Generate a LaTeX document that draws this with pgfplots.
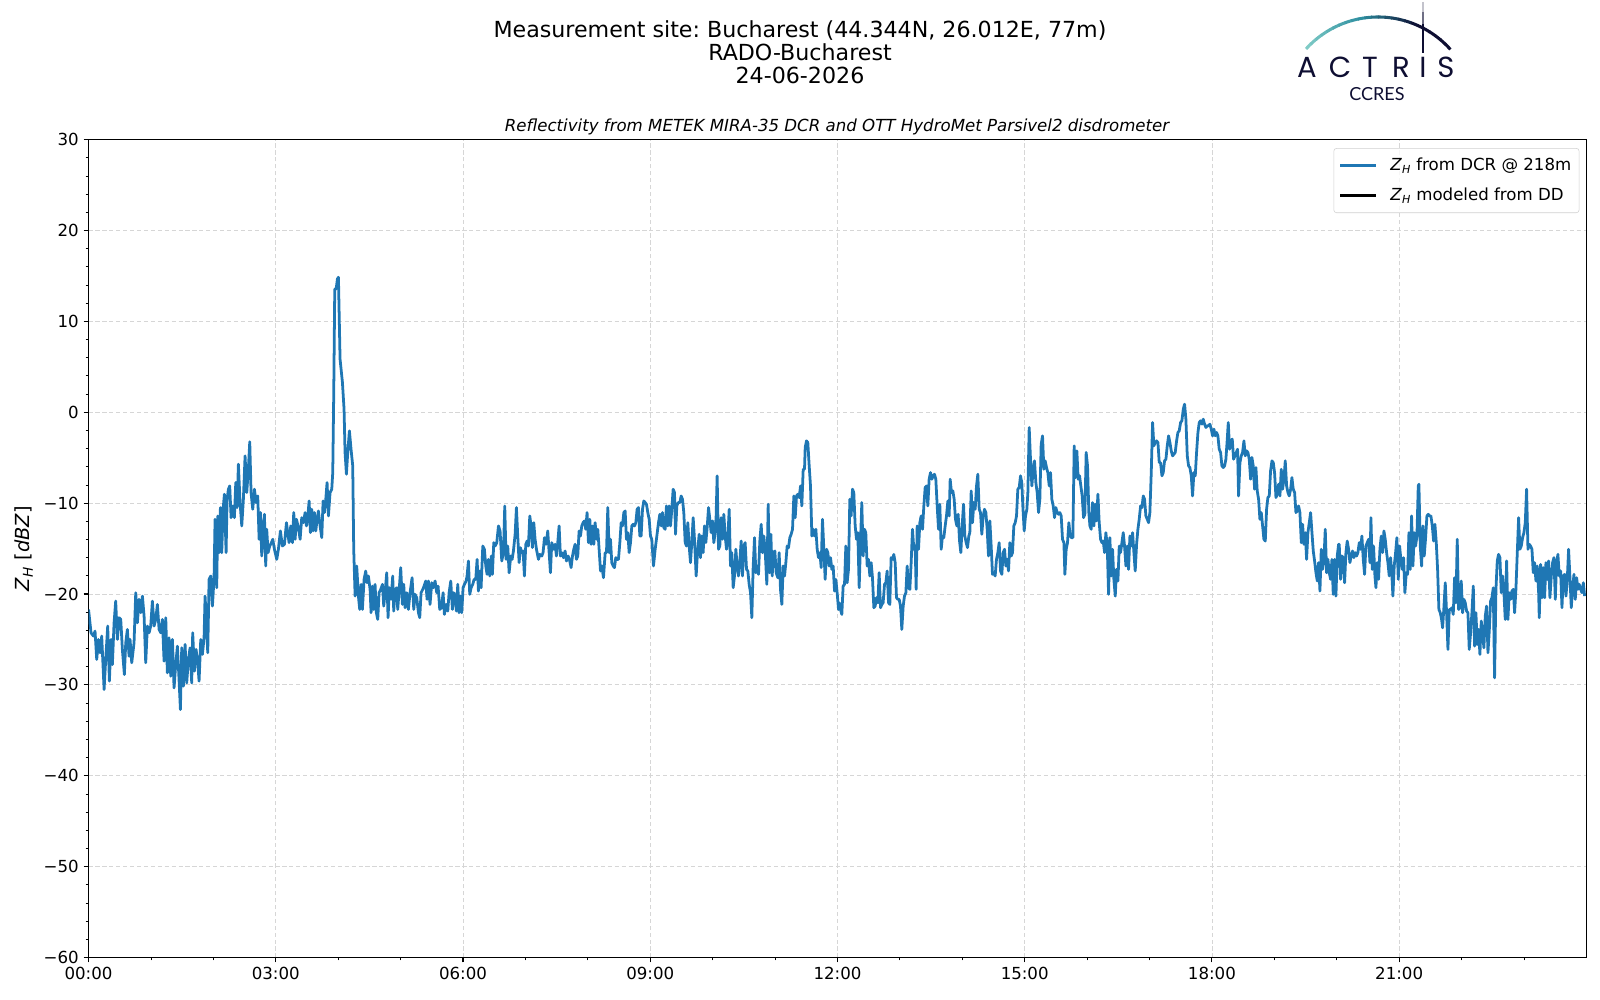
\documentclass[border=0pt]{standalone}
\usepackage{fontspec}
\setmainfont{DejaVu Sans}
\newfontfamily\logofont{Poppins}
\newfontfamily\ccresfont{Lato}
\usepackage{pgfplots}
\pgfplotsset{compat=1.18}
\usepackage{pgfplotstable}
\definecolor{czero}{HTML}{1F77B4}
\definecolor{logonavy}{RGB}{14,14,50}
\definecolor{logoteal}{HTML}{7FCBC6}
\definecolor{logomid}{HTML}{2E8FA0}
\definecolor{gridgray}{HTML}{D6D6D6}
\definecolor{legedge}{HTML}{D0D0D0}

\pgfplotstableread{
h z
0.000 -21.70
0.040 -24.27
0.078 -24.63
0.104 -24.08
0.131 -27.21
0.158 -25.00
0.184 -26.47
0.211 -24.63
0.249 -30.51
0.275 -27.21
0.307 -23.53
0.334 -29.59
0.361 -25.00
0.382 -27.76
0.409 -23.17
0.435 -20.78
0.462 -25.00
0.489 -22.61
0.516 -22.80
0.542 -26.10
0.574 -28.86
0.596 -25.37
0.622 -23.90
0.649 -26.84
0.665 -25.00
0.692 -27.57
0.729 -25.37
0.756 -19.86
0.783 -23.17
0.809 -20.59
0.836 -22.06
0.863 -20.23
0.890 -22.43
0.916 -27.57
0.943 -23.53
0.970 -24.27
0.996 -23.53
1.023 -20.78
1.050 -23.53
1.077 -22.80
1.103 -21.15
1.130 -23.90
1.157 -24.27
1.183 -22.80
1.210 -27.39
1.237 -22.61
1.263 -28.68
1.290 -24.82
1.317 -29.04
1.344 -25.00
1.370 -30.33
1.397 -27.76
1.424 -25.74
1.450 -29.41
1.472 -32.72
1.493 -25.92
1.520 -30.14
1.547 -25.55
1.573 -29.78
1.600 -27.21
1.627 -25.92
1.653 -29.78
1.669 -24.27
1.696 -28.49
1.723 -26.10
1.750 -27.57
1.771 -29.59
1.798 -25.00
1.824 -26.65
1.851 -24.82
1.867 -20.23
1.888 -22.98
1.910 -26.47
1.931 -18.39
1.958 -18.02
1.985 -21.33
2.011 -18.21
2.027 -11.78
2.054 -19.31
2.070 -11.41
2.092 -15.45
2.113 -10.49
2.134 -15.45
2.156 -10.68
2.177 -9.02
2.204 -15.45
2.220 -9.58
2.241 -8.47
2.262 -8.11
2.284 -11.60
2.311 -10.31
2.337 -11.60
2.359 -7.74
2.380 -10.49
2.401 -5.72
2.428 -9.94
2.455 -12.51
2.481 -9.58
2.508 -4.80
2.535 -8.84
2.562 -6.09
2.583 -3.26
2.604 -8.84
2.631 -10.68
2.658 -8.47
2.684 -9.94
2.711 -9.21
2.733 -13.98
2.754 -11.04
2.775 -15.82
2.802 -12.51
2.818 -11.23
2.839 -16.92
2.855 -12.88
2.877 -15.45
2.903 -14.72
2.930 -14.35
2.952 -13.98
2.978 -15.08
3.016 -16.19
3.042 -15.08
3.074 -13.06
3.106 -14.72
3.139 -14.53
3.171 -12.15
3.192 -13.25
3.213 -14.35
3.240 -12.51
3.267 -14.35
3.288 -11.04
3.310 -13.98
3.331 -11.78
3.363 -12.70
3.390 -13.98
3.416 -11.60
3.443 -12.15
3.470 -11.04
3.491 -12.51
3.512 -11.60
3.534 -9.76
3.555 -13.25
3.577 -10.68
3.598 -13.06
3.619 -11.04
3.641 -13.06
3.662 -11.78
3.683 -10.86
3.710 -12.51
3.737 -13.80
3.758 -9.76
3.780 -11.04
3.801 -9.58
3.822 -7.74
3.844 -11.41
3.870 -8.84
3.897 -8.47
3.913 -6.64
3.929 2.18
3.945 13.56
3.967 13.56
3.988 14.67
4.004 14.85
4.030 5.85
4.068 3.28
4.094 0.34
4.110 -4.43
4.132 -6.82
4.153 -4.43
4.180 -2.05
4.206 -4.07
4.233 -5.90
4.249 -15.08
4.271 -20.23
4.297 -16.92
4.324 -20.23
4.345 -21.70
4.367 -18.94
4.388 -21.70
4.415 -18.39
4.441 -17.47
4.463 -18.76
4.484 -18.02
4.511 -19.49
4.527 -22.06
4.548 -19.13
4.570 -21.70
4.591 -18.94
4.612 -22.06
4.634 -22.80
4.655 -19.86
4.682 -19.49
4.709 -18.94
4.730 -21.33
4.751 -19.86
4.778 -17.66
4.799 -22.61
4.821 -19.31
4.847 -20.59
4.874 -18.02
4.890 -21.88
4.912 -19.49
4.938 -19.31
4.954 -21.70
4.976 -19.68
5.002 -17.10
5.029 -21.15
5.050 -18.94
5.072 -21.51
5.099 -19.86
5.125 -21.70
5.152 -19.86
5.184 -18.21
5.211 -21.70
5.232 -20.04
5.259 -20.41
5.286 -22.06
5.307 -22.61
5.328 -19.86
5.355 -19.49
5.376 -19.13
5.403 -18.57
5.424 -20.59
5.446 -18.57
5.472 -21.15
5.499 -18.76
5.526 -19.31
5.553 -18.57
5.579 -19.86
5.601 -19.13
5.627 -21.70
5.654 -21.51
5.681 -19.86
5.702 -22.25
5.729 -21.15
5.756 -21.88
5.777 -19.86
5.804 -18.57
5.830 -21.70
5.852 -19.86
5.873 -20.23
5.894 -21.88
5.916 -18.94
5.937 -22.06
5.959 -20.23
5.980 -22.06
6.001 -19.31
6.023 -18.94
6.049 -18.57
6.065 -18.02
6.087 -16.37
6.108 -20.04
6.130 -19.31
6.156 -18.94
6.178 -18.39
6.204 -18.39
6.226 -16.19
6.247 -19.68
6.268 -17.47
6.290 -19.31
6.317 -14.72
6.343 -15.08
6.365 -16.92
6.386 -17.84
6.407 -16.19
6.429 -18.02
6.455 -15.82
6.471 -17.84
6.493 -14.35
6.514 -14.72
6.541 -14.35
6.568 -12.51
6.594 -13.06
6.621 -16.37
6.648 -15.45
6.669 -10.31
6.690 -16.19
6.717 -14.72
6.739 -17.66
6.765 -15.82
6.787 -16.19
6.808 -15.27
6.835 -13.43
6.856 -10.49
6.877 -13.62
6.899 -16.55
6.920 -14.90
6.942 -15.45
6.963 -15.27
6.984 -18.02
7.006 -14.53
7.027 -14.17
7.048 -14.72
7.070 -11.41
7.091 -12.51
7.112 -14.90
7.134 -12.15
7.155 -13.98
7.177 -15.08
7.209 -16.19
7.230 -15.64
7.262 -15.82
7.283 -15.45
7.305 -13.80
7.331 -14.53
7.358 -13.06
7.380 -15.45
7.401 -17.66
7.422 -14.35
7.454 -15.08
7.476 -14.53
7.497 -15.82
7.518 -14.35
7.540 -12.51
7.561 -15.82
7.583 -15.45
7.609 -16.00
7.636 -15.27
7.657 -16.37
7.684 -15.82
7.705 -16.19
7.732 -17.10
7.754 -15.82
7.775 -15.08
7.796 -14.53
7.818 -16.19
7.839 -15.82
7.860 -13.06
7.882 -13.62
7.903 -12.51
7.924 -12.15
7.946 -11.96
7.967 -12.88
7.988 -11.04
8.010 -14.35
8.032 -11.78
8.053 -14.53
8.075 -12.51
8.096 -14.53
8.117 -12.15
8.139 -13.98
8.160 -12.88
8.181 -15.08
8.203 -17.47
8.224 -16.92
8.251 -18.21
8.278 -15.45
8.299 -15.45
8.320 -10.49
8.342 -15.45
8.363 -13.98
8.384 -16.55
8.406 -16.92
8.427 -17.10
8.448 -16.00
8.470 -16.19
8.491 -16.19
8.513 -14.35
8.534 -12.15
8.555 -12.51
8.577 -11.04
8.598 -10.86
8.619 -13.98
8.641 -13.25
8.662 -15.45
8.684 -14.35
8.705 -12.51
8.726 -12.33
8.748 -12.51
8.769 -12.15
8.790 -10.68
8.812 -10.49
8.833 -13.62
8.854 -13.62
8.876 -10.68
8.897 -9.76
8.919 -9.94
8.940 -10.13
8.961 -11.04
8.983 -11.78
9.004 -13.62
9.025 -13.98
9.052 -16.92
9.079 -15.08
9.106 -13.62
9.132 -12.15
9.154 -11.23
9.175 -12.51
9.196 -11.04
9.218 -12.70
9.239 -12.88
9.260 -10.31
9.282 -12.51
9.303 -10.31
9.325 -12.51
9.346 -10.68
9.367 -8.47
9.389 -8.84
9.405 -13.43
9.426 -10.31
9.447 -9.94
9.474 -9.94
9.495 -9.21
9.517 -9.58
9.538 -11.04
9.560 -14.35
9.581 -14.72
9.602 -12.15
9.624 -14.72
9.645 -16.55
9.666 -14.35
9.688 -11.60
9.709 -13.98
9.736 -18.02
9.757 -15.45
9.784 -13.43
9.805 -16.00
9.827 -13.62
9.848 -15.45
9.869 -12.51
9.891 -14.35
9.912 -12.70
9.934 -10.49
9.955 -11.78
9.976 -13.25
9.998 -11.96
10.019 -14.35
10.040 -13.25
10.056 -11.41
10.072 -7.00
10.094 -15.08
10.115 -14.72
10.137 -11.60
10.158 -13.98
10.179 -11.23
10.201 -13.62
10.222 -15.08
10.243 -13.98
10.265 -10.68
10.286 -16.92
10.307 -15.45
10.329 -19.31
10.350 -18.02
10.372 -15.08
10.393 -16.92
10.414 -18.02
10.436 -16.37
10.457 -14.17
10.478 -18.02
10.500 -14.72
10.521 -14.35
10.543 -17.29
10.564 -17.47
10.585 -18.94
10.607 -19.86
10.628 -22.61
10.649 -17.10
10.671 -13.80
10.692 -17.66
10.713 -16.92
10.735 -17.84
10.756 -14.17
10.778 -12.33
10.799 -15.45
10.820 -13.62
10.842 -15.27
10.868 -18.94
10.890 -10.13
10.911 -17.66
10.933 -13.43
10.954 -18.02
10.975 -15.45
10.997 -15.27
11.018 -17.66
11.045 -18.21
11.066 -15.45
11.087 -19.49
11.109 -21.15
11.130 -16.92
11.152 -18.02
11.173 -16.55
11.194 -14.72
11.216 -14.90
11.237 -13.80
11.258 -13.43
11.280 -12.88
11.301 -9.21
11.323 -11.60
11.344 -9.21
11.365 -9.02
11.387 -9.39
11.408 -8.11
11.429 -10.31
11.451 -6.27
11.472 -6.27
11.483 -3.88
11.504 -3.15
11.525 -3.33
11.547 -5.90
11.568 -8.11
11.590 -13.62
11.611 -12.88
11.632 -13.62
11.654 -12.88
11.675 -15.08
11.696 -16.00
11.718 -15.45
11.739 -17.10
11.760 -11.78
11.782 -15.08
11.803 -18.39
11.825 -15.08
11.846 -15.45
11.867 -16.92
11.889 -16.00
11.910 -17.29
11.931 -16.92
11.953 -19.68
11.974 -18.39
11.995 -19.86
12.017 -21.70
12.027 -20.96
12.048 -21.70
12.070 -22.25
12.091 -19.13
12.113 -18.94
12.134 -14.72
12.155 -18.76
12.177 -17.29
12.198 -9.58
12.219 -11.41
12.241 -8.47
12.262 -8.84
12.284 -12.51
12.305 -13.98
12.326 -13.25
12.348 -19.31
12.369 -14.35
12.390 -9.94
12.412 -15.82
12.433 -12.88
12.454 -13.25
12.476 -16.92
12.497 -16.19
12.519 -18.02
12.540 -16.55
12.561 -18.21
12.583 -21.51
12.604 -21.33
12.625 -20.41
12.647 -20.96
12.668 -17.66
12.690 -21.51
12.711 -21.15
12.732 -20.96
12.754 -18.94
12.775 -18.76
12.796 -17.47
12.818 -20.96
12.839 -21.15
12.860 -16.00
12.882 -16.19
12.903 -15.64
12.925 -16.55
12.946 -20.41
12.967 -20.59
12.989 -20.59
13.010 -21.33
13.031 -23.90
13.053 -21.33
13.074 -20.23
13.096 -19.86
13.117 -16.92
13.138 -19.31
13.160 -19.49
13.181 -16.55
13.202 -12.88
13.224 -15.08
13.245 -14.72
13.261 -19.49
13.277 -12.51
13.299 -15.08
13.320 -12.15
13.341 -11.41
13.363 -12.88
13.384 -10.31
13.405 -8.29
13.427 -8.11
13.448 -10.31
13.469 -7.37
13.491 -6.64
13.512 -7.37
13.534 -7.00
13.555 -6.82
13.576 -7.37
13.598 -10.31
13.619 -12.88
13.640 -10.13
13.662 -15.08
13.683 -13.62
13.704 -13.80
13.726 -12.51
13.747 -11.41
13.769 -9.76
13.790 -11.41
13.806 -7.37
13.827 -8.84
13.849 -8.66
13.870 -9.58
13.891 -11.78
13.913 -12.51
13.934 -11.23
13.956 -14.17
13.977 -15.45
13.998 -12.51
14.020 -10.13
14.041 -13.62
14.062 -14.35
14.084 -14.90
14.105 -13.62
14.121 -13.25
14.143 -8.66
14.164 -12.15
14.185 -9.94
14.207 -10.68
14.228 -8.11
14.249 -6.82
14.271 -10.68
14.292 -11.04
14.313 -13.43
14.335 -11.41
14.356 -10.68
14.378 -11.04
14.399 -12.88
14.420 -15.82
14.442 -11.96
14.463 -14.72
14.484 -17.84
14.506 -17.66
14.527 -18.02
14.548 -16.19
14.570 -15.45
14.591 -14.35
14.613 -17.47
14.634 -17.84
14.655 -15.45
14.677 -15.08
14.698 -16.92
14.719 -16.19
14.741 -17.47
14.762 -14.35
14.784 -15.82
14.805 -15.45
14.826 -12.51
14.848 -12.15
14.869 -11.41
14.890 -8.47
14.912 -8.29
14.933 -7.00
14.954 -7.74
14.970 -10.31
14.992 -13.06
15.013 -11.41
15.035 -10.68
15.051 -8.84
15.072 -1.68
15.093 -5.17
15.115 -8.11
15.136 -6.27
15.157 -5.35
15.179 -7.74
15.200 -8.84
15.222 -11.04
15.243 -9.58
15.264 -3.52
15.286 -2.60
15.307 -6.27
15.328 -5.35
15.350 -6.09
15.371 -6.64
15.393 -8.11
15.414 -6.64
15.435 -9.58
15.457 -10.31
15.478 -11.60
15.499 -10.49
15.521 -11.04
15.542 -11.23
15.563 -11.04
15.585 -11.41
15.606 -13.98
15.628 -14.35
15.644 -17.84
15.665 -15.08
15.686 -14.35
15.708 -12.15
15.729 -13.62
15.750 -13.80
15.772 -13.80
15.793 -3.70
15.815 -7.19
15.836 -4.25
15.857 -7.37
15.879 -7.00
15.900 -8.11
15.921 -9.21
15.943 -11.60
15.964 -11.23
15.985 -4.43
16.007 -5.90
16.028 -11.04
16.045 -12.51
16.066 -12.88
16.088 -9.94
16.109 -12.51
16.130 -10.13
16.152 -11.96
16.173 -9.02
16.194 -12.15
16.216 -13.98
16.237 -14.35
16.258 -14.17
16.280 -15.45
16.301 -13.25
16.323 -14.72
16.344 -20.04
16.365 -13.80
16.387 -18.02
16.408 -15.08
16.429 -18.39
16.451 -20.23
16.472 -17.29
16.494 -18.57
16.515 -14.72
16.536 -15.45
16.558 -14.35
16.579 -13.25
16.600 -14.72
16.622 -16.92
16.643 -14.72
16.664 -17.29
16.686 -13.62
16.707 -14.72
16.729 -13.25
16.750 -15.45
16.771 -17.47
16.793 -14.53
16.814 -12.88
16.835 -11.78
16.857 -10.31
16.878 -10.49
16.900 -9.21
16.921 -9.58
16.942 -11.41
16.964 -11.78
16.985 -12.15
17.006 -11.04
17.028 -6.64
17.049 -1.13
17.070 -3.70
17.092 -3.33
17.113 -3.15
17.135 -3.33
17.156 -5.54
17.177 -5.54
17.199 -7.00
17.220 -6.64
17.241 -5.35
17.263 -5.17
17.284 -3.70
17.306 -2.60
17.327 -3.33
17.348 -4.25
17.370 -4.80
17.391 -4.62
17.412 -4.43
17.434 -3.15
17.455 -2.23
17.476 -2.05
17.498 -1.13
17.519 -0.94
17.541 0.34
17.562 0.89
17.583 -0.76
17.605 -4.80
17.626 -5.90
17.647 -6.09
17.669 -7.00
17.690 -9.21
17.711 -6.64
17.733 -7.00
17.754 -4.43
17.776 -2.23
17.797 -1.13
17.818 -0.94
17.840 -1.31
17.861 -0.76
17.882 -1.31
17.904 -1.68
17.925 -1.50
17.947 -1.50
17.968 -1.31
17.989 -1.86
18.011 -2.60
18.032 -1.86
18.053 -2.60
18.075 -2.23
18.096 -2.60
18.117 -4.07
18.139 -4.43
18.160 -5.90
18.182 -6.09
18.203 -5.90
18.224 -5.17
18.246 -2.96
18.262 -1.13
18.283 -4.07
18.304 -3.15
18.326 -2.96
18.347 -5.17
18.369 -4.80
18.390 -4.43
18.411 -4.07
18.427 -9.21
18.449 -5.54
18.470 -4.80
18.491 -4.43
18.513 -3.15
18.534 -4.80
18.556 -4.25
18.577 -4.43
18.598 -5.17
18.620 -7.37
18.641 -4.98
18.662 -5.90
18.684 -8.47
18.705 -6.09
18.726 -8.66
18.748 -9.58
18.769 -11.78
18.791 -11.04
18.812 -12.51
18.833 -13.98
18.855 -14.17
18.876 -10.68
18.897 -9.39
18.919 -9.21
18.940 -6.45
18.962 -5.35
18.983 -5.54
19.004 -6.64
19.026 -9.39
19.047 -9.02
19.068 -7.92
19.090 -9.21
19.111 -6.27
19.132 -8.47
19.154 -7.37
19.175 -5.35
19.197 -8.11
19.218 -8.84
19.239 -9.21
19.261 -8.47
19.282 -7.19
19.303 -8.47
19.325 -8.84
19.346 -11.04
19.368 -10.86
19.389 -10.31
19.410 -11.04
19.432 -14.35
19.453 -12.33
19.474 -14.53
19.496 -13.25
19.517 -16.19
19.538 -13.25
19.560 -12.15
19.581 -11.04
19.603 -13.25
19.624 -15.27
19.645 -16.37
19.667 -17.66
19.688 -18.57
19.709 -16.55
19.731 -19.68
19.752 -15.08
19.773 -17.29
19.795 -16.19
19.816 -12.88
19.838 -17.66
19.859 -16.19
19.880 -17.66
19.902 -18.39
19.923 -16.19
19.944 -20.04
19.966 -16.19
19.987 -20.23
20.008 -15.82
20.030 -14.53
20.040 -14.53
20.061 -18.39
20.083 -15.82
20.104 -16.00
20.126 -18.76
20.147 -15.45
20.168 -14.17
20.190 -15.08
20.211 -16.55
20.232 -15.82
20.254 -15.27
20.275 -16.00
20.297 -15.45
20.318 -15.82
20.339 -15.45
20.361 -14.35
20.382 -15.08
20.403 -13.62
20.425 -16.19
20.446 -17.84
20.467 -14.72
20.489 -14.35
20.510 -13.98
20.532 -16.55
20.548 -11.60
20.569 -17.29
20.590 -14.72
20.612 -18.02
20.628 -19.31
20.649 -16.55
20.670 -18.39
20.692 -15.08
20.713 -13.62
20.735 -15.45
20.756 -13.06
20.777 -13.98
20.799 -15.45
20.820 -16.55
20.841 -18.02
20.863 -16.00
20.884 -18.02
20.900 -20.23
20.921 -16.92
20.943 -15.45
20.964 -13.80
20.986 -18.39
21.007 -14.72
21.028 -16.19
21.050 -17.29
21.071 -16.00
21.092 -19.86
21.114 -17.66
21.135 -17.84
21.157 -13.25
21.178 -17.29
21.199 -11.41
21.221 -16.92
21.242 -13.25
21.263 -14.72
21.285 -13.62
21.306 -8.11
21.317 -7.92
21.338 -14.72
21.360 -16.92
21.381 -12.51
21.402 -15.82
21.424 -13.80
21.445 -11.41
21.466 -11.23
21.488 -11.41
21.509 -11.41
21.531 -12.51
21.552 -14.17
21.573 -12.33
21.595 -14.35
21.616 -17.29
21.637 -21.70
21.659 -22.06
21.680 -22.80
21.696 -23.72
21.717 -21.51
21.739 -18.76
21.760 -22.06
21.782 -26.10
21.803 -21.70
21.824 -21.70
21.846 -21.51
21.867 -22.25
21.888 -18.21
21.910 -20.96
21.931 -13.98
21.953 -21.70
21.974 -21.51
21.995 -18.57
22.017 -22.06
22.038 -20.59
22.059 -20.96
22.081 -21.88
22.102 -22.06
22.123 -26.10
22.145 -24.27
22.166 -22.06
22.188 -19.13
22.209 -25.74
22.230 -22.06
22.252 -25.55
22.273 -23.90
22.294 -26.65
22.316 -22.98
22.337 -24.27
22.358 -25.92
22.380 -22.43
22.401 -21.33
22.423 -26.47
22.444 -24.08
22.465 -20.78
22.487 -20.41
22.508 -19.31
22.529 -29.23
22.551 -19.49
22.572 -16.37
22.593 -15.64
22.615 -16.00
22.636 -19.86
22.658 -18.02
22.679 -19.86
22.700 -22.80
22.722 -16.37
22.743 -22.80
22.764 -19.86
22.786 -20.59
22.807 -19.68
22.829 -19.49
22.850 -22.06
22.871 -19.49
22.893 -15.45
22.914 -11.60
22.935 -15.08
22.957 -14.72
22.978 -13.80
22.999 -13.25
23.021 -12.15
23.042 -8.47
23.064 -15.08
23.085 -14.53
23.106 -14.72
23.128 -15.08
23.149 -17.66
23.170 -16.55
23.192 -18.57
23.213 -16.92
23.235 -19.86
23.245 -22.61
23.267 -16.74
23.288 -20.41
23.309 -17.10
23.331 -20.41
23.352 -16.55
23.373 -18.39
23.395 -16.37
23.416 -20.41
23.438 -18.02
23.459 -16.55
23.480 -16.00
23.502 -20.59
23.523 -16.55
23.544 -15.64
23.566 -18.02
23.587 -17.47
23.609 -21.51
23.630 -18.02
23.651 -17.84
23.673 -20.23
23.694 -18.39
23.715 -15.08
23.737 -18.21
23.758 -21.51
23.780 -19.31
23.801 -17.84
23.822 -20.59
23.844 -18.21
23.865 -19.49
23.886 -18.94
23.908 -19.49
23.929 -19.86
23.951 -18.76
23.972 -20.23
}\dcrdata

\begin{document}
\frenchspacing
\begin{tikzpicture}
\begin{scope}[shift={(-0.885in,9.57in)},x=0.01in,y=-0.01in]
\path[use as bounding box] (0,0) rectangle (1600,1000);
\end{scope}
\begin{axis}[
  scale only axis,
  width=14.97in, height=8.175in,
  xmin=0, xmax=24, ymin=-60, ymax=30,
  xtick={0,3,...,21},
  xticklabels={00:00,03:00,06:00,09:00,12:00,15:00,18:00,21:00},
  minor xtick={1,2,4,5,7,8,10,11,13,14,16,17,19,20,22,23},
  ytick={-60,-50,...,30},
  yticklabels={−60,−50,−40,−30,−20,−10,0,10,20,30},
  minor y tick num=4,
  tick align=outside, tick pos=left,
  major tick length=0.049in, minor tick length=0.028in,
  every tick/.style={black, line width=0.8pt},
  every minor tick/.style={black, line width=0.6pt},
  axis line style={line width=0.8pt},
  grid=major,
  major grid style={gridgray, dash pattern=on 3pt off 2pt, line width=0.6pt},
  tick label style={font=\fontsize{12}{14}\selectfont},
  /pgf/number format/assume math mode=true,
  ylabel={\textit{Z}\textsubscript{\textit{H}} [\textit{dBZ}]},
  every axis y label/.style={at={(axis description cs:-0.0431,0.5)}, rotate=90, anchor=center, font=\fontsize{14}{16}\selectfont},
  title={\textit{Reflectivity from METEK MIRA-35 DCR and OTT HydroMet Parsivel2 disdrometer}},
  every axis title/.style={at={(axis description cs:0.5,1)}, anchor=base, yshift=0.08in, font=\fontsize{12}{14}\selectfont},
  legend cell align=left,
  legend image code/.code={\draw[#1] (0in,0in) -- (0.36in,0in);},
  legend style={at={(1,1)}, anchor=north east, xshift=-0.07in, yshift=-0.085in,
    draw=legedge, rounded corners=2pt, fill=white, fill opacity=0.8, text opacity=1,
    font=\fontsize{12}{14}\selectfont, inner xsep=0.05in, inner ysep=0.072in,
    column sep=0.1in, row sep=0.095in},
]
\addplot[czero, line width=2pt, line join=round] table[x=h, y=z]{\dcrdata};
\addlegendentry{\textit{Z}\textsubscript{\textit{H}} from DCR @ 218m}
\addlegendimage{black, line width=2pt}
\addlegendentry{\textit{Z}\textsubscript{\textit{H}} modeled from DD}
\end{axis}
\begin{scope}[shift={(-0.885in,9.57in)},x=0.01in,y=-0.01in]
\node[anchor=base, font=\fontsize{16}{19}\selectfont] at (800,37.5) {Measurement site: Bucharest (44.344N, 26.012E, 77m)};
\node[anchor=base, font=\fontsize{16}{19}\selectfont] at (800,60.8) {RADO-Bucharest};
\node[anchor=base, font=\fontsize{16}{19}\selectfont] at (800,83.3) {24-06-2026};
% logo
\foreach \k in {0,...,23}{
  \pgfmathsetmacro{\aa}{137.9-\k*3.99}
  \pgfmathsetmacro{\bb}{\aa-4.4}
  \ifnum\k<9
    \pgfmathtruncatemacro{\pp}{100-\k*11}
    \def\cc{logoteal!\pp!logomid}
  \else
    \pgfmathtruncatemacro{\pp}{max(0,100-(\k-9)*12)}
    \def\cc{logomid!\pp!logonavy}
  \fi
  \draw[line width=2.2pt, color=\cc] plot[domain=\aa:\bb, samples=4] ({1378+97*cos(\x)},{114-97*sin(\x)});
}
\draw[line width=1.5pt, logonavy!25] (1423,2) -- (1423,12);
\draw[line width=1.5pt, logonavy!60] (1423,12) -- (1423,24);
\draw[line width=1.5pt, logonavy] (1423,24) -- (1423,53);
\foreach \p/\l in {1307/A,1340/C,1370/T,1401/R,1423/I,1446/S}{
  \node[anchor=base, inner sep=0pt, text=logonavy, font=\logofont\fontsize{21}{24}\selectfont] at (\p,77.5) {\l};
}
\node[anchor=base, inner sep=0pt, text=logonavy, font=\ccresfont\fontsize{13}{15}\selectfont] at (1377,100.3) {CCRES};
\end{scope}
\end{tikzpicture}
\end{document}
